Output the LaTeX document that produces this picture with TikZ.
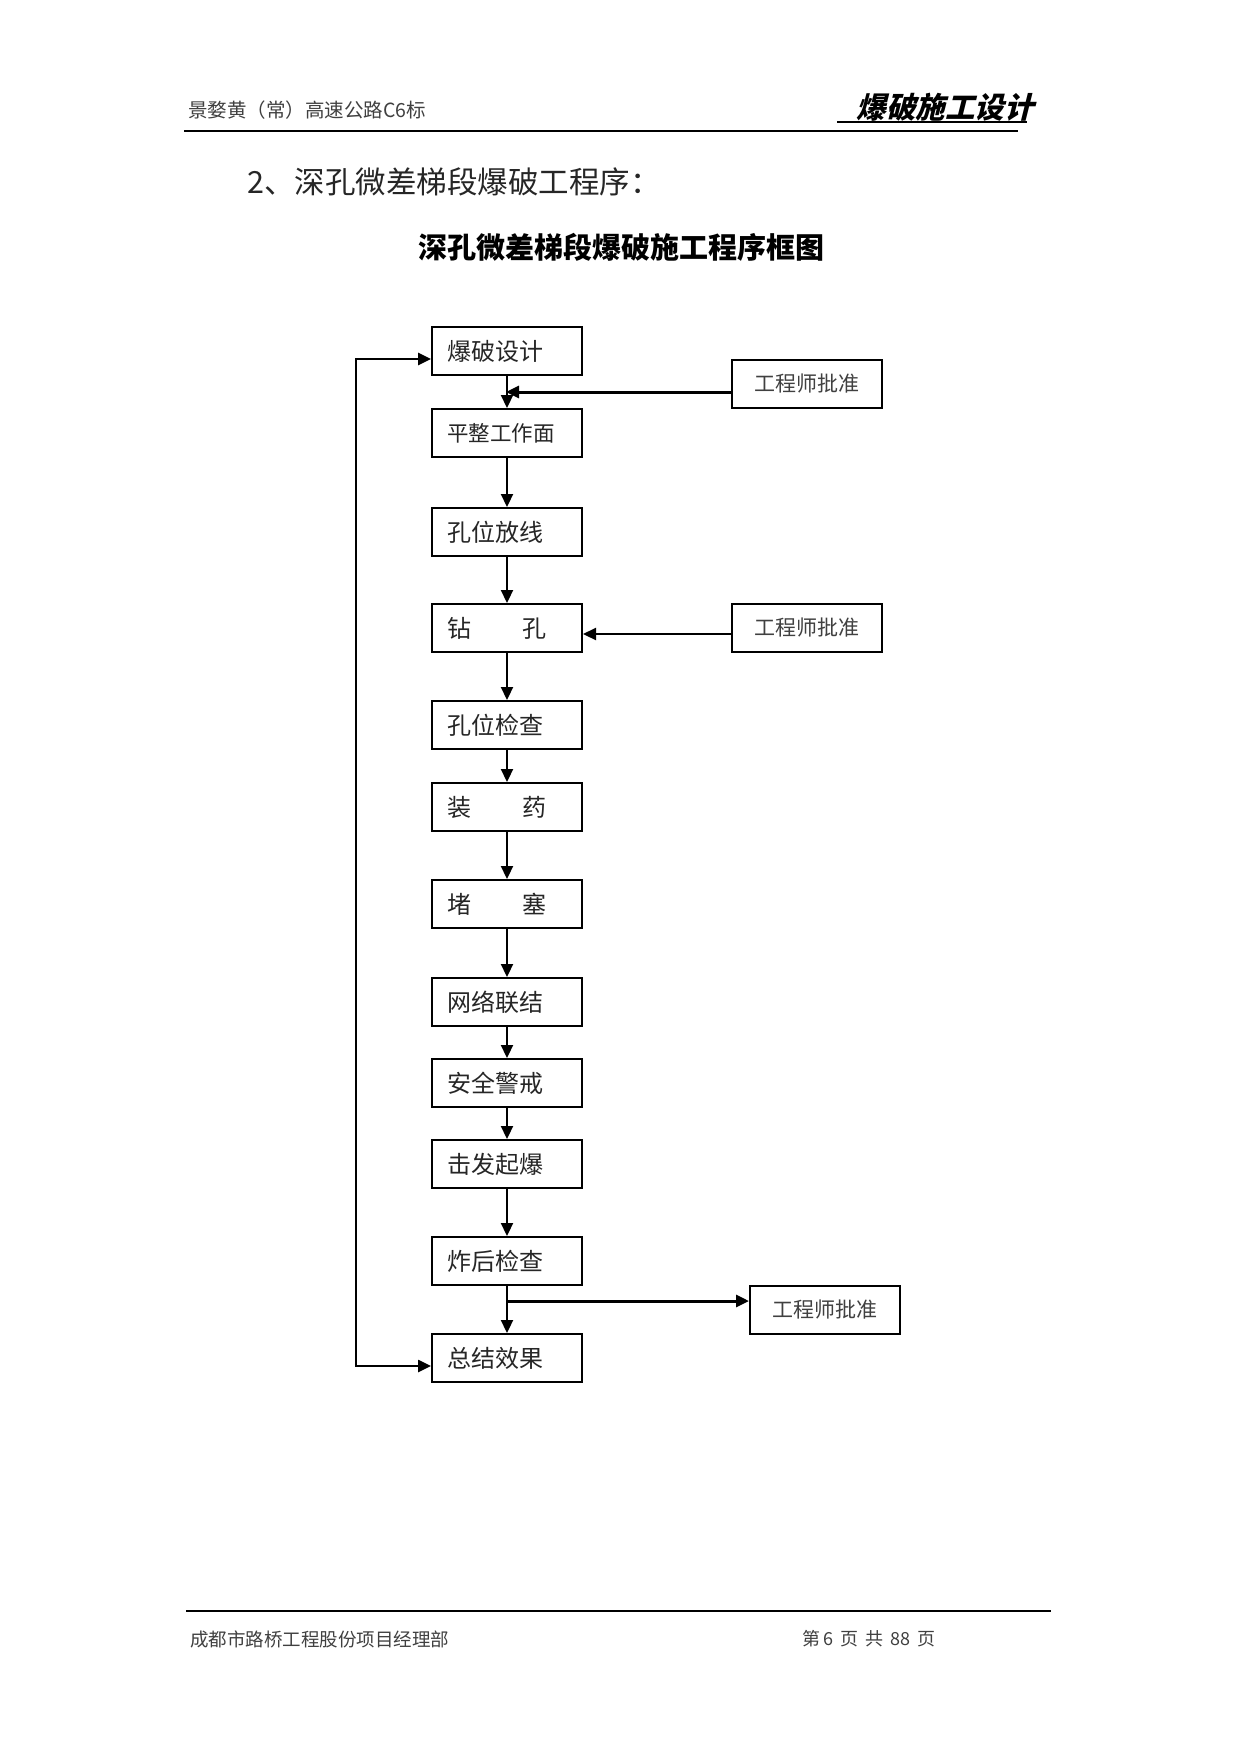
\documentclass[tikz,border=0pt]{standalone}
\usepackage{fontspec}
\setmainfont{Noto Sans CJK SC}
\newfontfamily\slcjk[FakeSlant=0.25]{Noto Sans CJK SC}
\usetikzlibrary{arrows.meta,calc}
\tikzset{
  mainbox/.style={draw, line width=2pt, minimum width=150pt, minimum height=48pt,
    inner xsep=15pt, inner ysep=0pt, text width=120pt, align=left,
    font=\fontsize{24}{24}\selectfont, text=black!85, anchor=north west},
  sidebox/.style={draw, line width=2pt, minimum width=150pt, minimum height=48pt,
    inner sep=0pt, font=\fontsize{21}{21}\selectfont, text=black!75, anchor=north west},
  arr/.style={line width=2.2pt, -{Triangle[length=13pt,width=12pt]}},
  arrT/.style={line width=3pt, -{Triangle[length=13pt,width=12pt]}},
  looparr/.style={line width=2.6pt, {Triangle[length=13pt,width=12pt]}-{Triangle[length=13pt,width=12pt]}},
  hdtext/.style={inner sep=0pt, text=black!75},
}
\begin{document}
\begin{tikzpicture}[x=1pt,y=-1pt]
\useasboundingbox (0,0) rectangle (1241,1754);
\fill[white] (0,0) rectangle (1241,1754);

% header
\node[hdtext, anchor=west, font=\fontsize{19.5}{19.5}\selectfont] (hl) at (188,110) {景婺黄（常）高速公路C6标};
\node[inner sep=0pt, anchor=east, font=\fontsize{29.5}{29.5}\slcjk\bfseries] (hr) at (1034,107) {爆破施工设计};
\coordinate (ul1) at (837,122);
\coordinate (ul2) at (1027,122);
\draw[line width=1.3pt] (ul1) -- (ul2);
\coordinate (hline1) at (184,131);
\coordinate (hline2) at (1018,131);
\draw[line width=1.3pt] (hline1) -- (hline2);

% headings
\node[inner sep=0pt, anchor=west, font=\fontsize{30.5}{30.5}\selectfont, text=black!85] (sec) at (247,182) {2、深孔微差梯段爆破工程序：};
\node[inner sep=0pt, anchor=center, font=\fontsize{29}{29}\selectfont\bfseries] (ttl) at (621,247) {深孔微差梯段爆破施工程序框图};

% main boxes
\node[mainbox] (b1) at (431,326) {爆破设计};
\node[mainbox, font=\fontsize{21.5}{21.5}\selectfont] (b2) at (431,408) {平整工作面};
\node[mainbox] (b3) at (431,507) {孔位放线};
\node[mainbox] (b4) at (431,603) {钻\hspace{51pt}孔};
\node[mainbox] (b5) at (431,700) {孔位检查};
\node[mainbox] (b6) at (431,782) {装\hspace{51pt}药};
\node[mainbox] (b7) at (431,879) {堵\hspace{51pt}塞};
\node[mainbox] (b8) at (431,977) {网络联结};
\node[mainbox] (b9) at (431,1058) {安全警戒};
\node[mainbox] (b10) at (431,1139) {击发起爆};
\node[mainbox] (b11) at (431,1236) {炸后检查};
\node[mainbox] (b12) at (431,1333) {总结效果};

% side boxes
\node[sidebox] (sa) at (731,359) {工程师批准};
\node[sidebox] (sb) at (731,603) {工程师批准};
\node[sidebox] (sc) at (749,1285) {工程师批准};

% vertical arrows
\foreach \i/\j in {b1/b2,b2/b3,b3/b4,b4/b5,b5/b6,b6/b7,b7/b8,b8/b9,b9/b10,b10/b11,b11/b12}
  \draw[arr] (\i.south) -- (\j.north);

% side connections
\coordinate (j1) at (506,392);
\draw[arrT] (sa.west |- j1) -- (j1);
\coordinate (j2) at (581,634);
\draw[arr] (sb.west |- j2) -- (b4.east |- j2);
\coordinate (j3) at (506,1301);
\draw[arrT] (j3) -- (sc.west |- j3);

% loop
\coordinate (lp1) at (356,359);
\coordinate (lp2) at (356,1366);
\draw[looparr] (b1.west |- lp1) -- (lp1) -- (lp2) -- (b12.west |- lp2);

% footer
\coordinate (f1) at (186,1611);
\coordinate (f2) at (1051,1611);
\draw[line width=2.5pt] (f1) -- (f2);
\node[hdtext, anchor=west, font=\fontsize{18.5}{18.5}\selectfont] (fl) at (190,1639) {成都市路桥工程股份项目经理部};
\node[hdtext, anchor=west, font=\fontsize{18}{18}\selectfont] (fr) at (802,1639) {第\,6\, 页\, 共\, 88\, 页};
\end{tikzpicture}
\end{document}
